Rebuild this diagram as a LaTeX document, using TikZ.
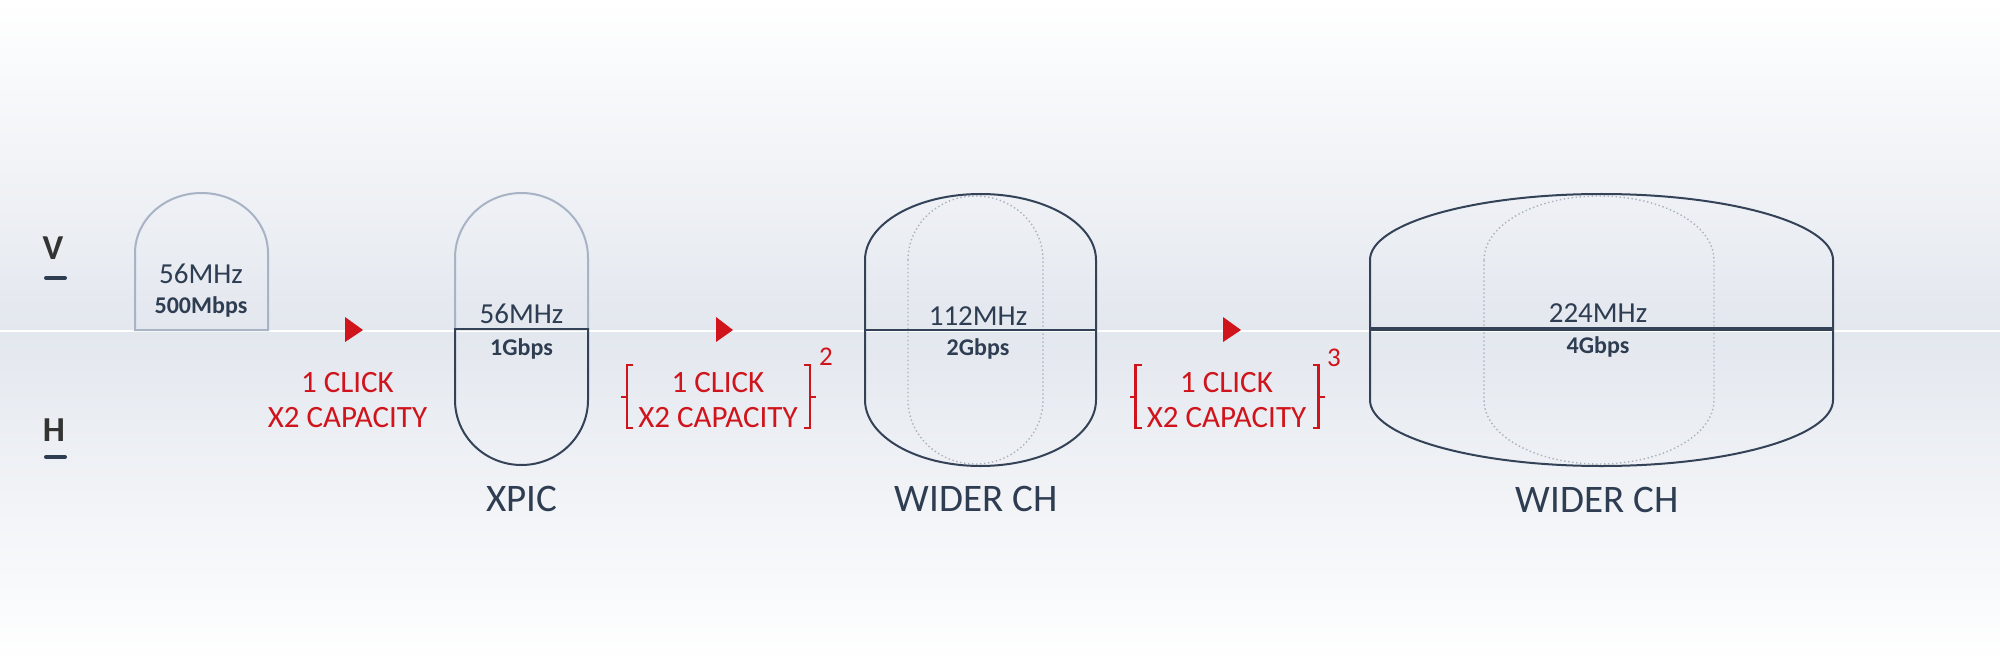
\documentclass[tikz,border=0pt]{standalone}
\usepackage{fontspec}
\setmainfont{Carlito}
\definecolor{navy}{RGB}{46,61,82}
\definecolor{navyline}{RGB}{52,66,88}
\definecolor{faded}{RGB}{168,179,197}
\definecolor{clickred}{RGB}{208,20,28}
\definecolor{dotgray}{RGB}{170,177,190}
\definecolor{bandgray}{RGB}{227,231,238}
\begin{document}
\begin{tikzpicture}[x=0.5pt,y=0.5pt,
  mhz/.style={anchor=base,text=navy,font=\fontsize{14.5}{17}\selectfont},
  rate/.style={anchor=base,text=navy,font=\fontsize{12}{14}\selectfont\bfseries},
  tag/.style={anchor=base,text=navy,font=\fontsize{19.5}{23}\selectfont},
  click/.style={align=center,text=clickred,inner sep=0pt,font=\fontsize{15.5}{17.7}\selectfont},
  power/.style={anchor=base,text=clickred,font=\fontsize{13.5}{16}\selectfont},
  pol/.style={anchor=base,text=black!80,font=\fontsize{17.5}{20}\selectfont\bfseries},
  faint/.style={draw=faded,line width=1pt},
  chan/.style={draw=navyline,line width=1pt},
  ghost/.style={draw=dotgray,line width=0.7pt,dash pattern=on 0.7pt off 1.3pt},
  brk/.style={draw=clickred,line width=1.4pt},
  tri/.style={fill=clickred}]
\useasboundingbox (0,0) rectangle (2000,-663);
\shade[top color=white,bottom color=bandgray] (0,0) rectangle (2000,-331);
\shade[top color=bandgray,bottom color=white] (0,-331) rectangle (2000,-663);
\draw[white,line width=0.75pt] (0,-331) -- (2000,-331);
\node[pol] (pv) at (53,-259) {V};
\node[pol] (ph) at (54,-441) {H};
\draw[navy,line width=2pt,line cap=round] (46,-278) -- (65,-278);
\draw[navy,line width=2pt,line cap=round] (46,-457) -- (65,-457);
\draw[faint] (135,-330) -- (135,-253) arc[start angle=180,end angle=0,x radius=66.5,y radius=60] -- (268,-330) -- cycle;
\node[mhz] (f1) at (201,-283) {56MHz};
\node[rate] (r1) at (201,-313) {500Mbps};
\fill[tri] (345,-317) -- (363,-330) -- (345,-342) -- cycle;
\node[click] (click1) at (347.5,-400) {1 CLICK\\X2 CAPACITY};
\draw[faint] (455,-329) -- (455,-258) arc[start angle=180,end angle=0,x radius=66.5,y radius=65] -- (588,-329);
\draw[chan] (455,-329) -- (455,-400) arc[start angle=180,end angle=360,x radius=66.5,y radius=65] -- (588,-329) -- cycle;
\node[mhz] (f2) at (521.5,-323) {56MHz};
\node[rate] (r2) at (521.5,-355) {1Gbps};
\node[tag] (tag2) at (521.5,-511) {XPIC};
\fill[tri] (716,-317) -- (733,-330) -- (716,-342) -- cycle;
\node[click] (click2) at (718,-400) {1 CLICK\\X2 CAPACITY};
\draw[brk] (633,-365) -- (627,-365) -- (627,-428) -- (633,-428);
\draw[brk] (627,-397) -- (621,-397);
\draw[brk] (804,-365) -- (810,-365) -- (810,-428) -- (804,-428);
\draw[brk] (810,-397) -- (816,-397);
\node[power] (pow2) at (826,-365) {2};
\draw[ghost] (908,-260) arc[start angle=180,end angle=0,x radius=67.5,y radius=64] -- (1043,-400) arc[start angle=0,end angle=-180,x radius=67.5,y radius=64] -- cycle;
\draw[chan] (865,-260) arc[start angle=180,end angle=0,x radius=115.5,y radius=66] -- (1096,-400) arc[start angle=0,end angle=-180,x radius=115.5,y radius=66] -- cycle;
\draw[chan] (865,-330) -- (1096,-330);
\node[mhz] (f3) at (978,-325) {112MHz};
\node[rate] (r3) at (978,-355) {2Gbps};
\node[tag] (tag3) at (976,-511) {WIDER CH};
\fill[tri] (1223,-317) -- (1241,-330) -- (1223,-342) -- cycle;
\node[click] (click3) at (1226.5,-400) {1 CLICK\\X2 CAPACITY};
\draw[brk] (1141.5,-365) -- (1135.5,-365) -- (1135.5,-428) -- (1141.5,-428);
\draw[brk] (1135.5,-397) -- (1129.5,-397);
\draw[brk] (1312.5,-365) -- (1318.5,-365) -- (1318.5,-428) -- (1312.5,-428);
\draw[brk] (1318.5,-397) -- (1324.5,-397);
\node[power] (pow3) at (1334,-366) {3};
\draw[ghost] (1484,-260) arc[start angle=180,end angle=0,x radius=115,y radius=64] -- (1714,-400) arc[start angle=0,end angle=-180,x radius=115,y radius=64] -- cycle;
\draw[chan] (1370,-260) arc[start angle=180,end angle=0,x radius=231.5,y radius=66] -- (1833,-400) arc[start angle=0,end angle=-180,x radius=231.5,y radius=66] -- cycle;
\draw[chan,line width=1.6pt] (1370,-329) -- (1833,-329);
\node[mhz] (f4) at (1598,-322) {224MHz};
\node[rate] (r4) at (1598,-353) {4Gbps};
\node[tag] (tag4) at (1597,-512) {WIDER CH};
\end{tikzpicture}
\end{document}
